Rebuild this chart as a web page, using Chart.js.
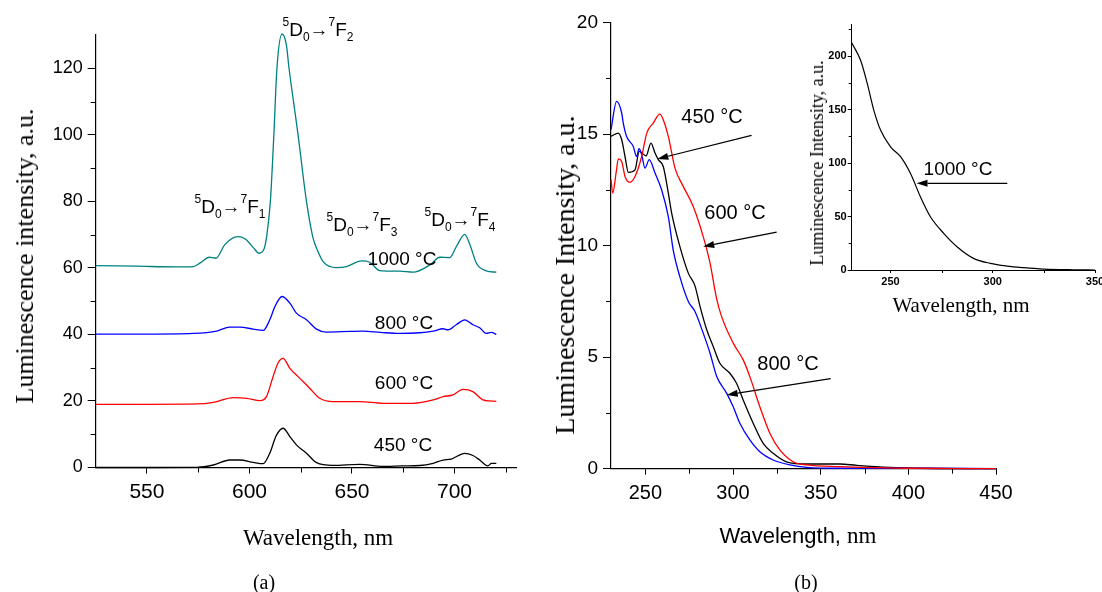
<!DOCTYPE html>
<html>
<head>
<meta charset="utf-8">
<script src="https://cdn.jsdelivr.net/npm/chart.js@4.4.0/dist/chart.umd.min.js"></script>
<style>
  html, body { margin: 0; padding: 0; background: #fff; }
  body { width: 1102px; height: 592px; position: relative; overflow: hidden; }
  canvas { position: absolute; }
  .lbl { position: absolute; transform: translate(-50%, -50%); white-space: nowrap; line-height: 1; color: #000; }
  .sans { font-family: 'Liberation Sans', Arial, sans-serif; }
  .serif { font-family: 'Liberation Serif', 'Times New Roman', serif; }
  .rot { transform: translate(-50%, -50%) rotate(-90deg); }
  .sp { font-size: 12px; position: relative; top: -10px; }
  .sb { font-size: 12px; position: relative; top: 5px; }
</style>
</head>
<body>
<canvas id="chartA" width="540" height="592" style="left:0;top:0"></canvas>
<canvas id="chartB" width="562" height="592" style="left:540px;top:0"></canvas>
<canvas id="chartIn" width="330" height="330" style="left:790px;top:0"></canvas>

<!-- panel (a) text -->
<div class="lbl serif rot" style="left:25px;top:256px;font-size:26px">Luminescence intensity, a.u.</div>
<div class="lbl serif" style="left:318px;top:537px;font-size:23px">Wavelength, nm</div>
<div class="lbl serif" style="left:264px;top:582px;font-size:20px">(a)</div>
<div class="lbl sans" style="left:318px;top:29px;font-size:19px"><span class="sp">5</span>D<span class="sb">0</span>&rarr;<span class="sp">7</span>F<span class="sb">2</span></div>
<div class="lbl sans" style="left:230px;top:206px;font-size:19px"><span class="sp">5</span>D<span class="sb">0</span>&rarr;<span class="sp">7</span>F<span class="sb">1</span></div>
<div class="lbl sans" style="left:362px;top:224px;font-size:19px"><span class="sp">5</span>D<span class="sb">0</span>&rarr;<span class="sp">7</span>F<span class="sb">3</span></div>
<div class="lbl sans" style="left:460px;top:219px;font-size:19px"><span class="sp">5</span>D<span class="sb">0</span>&rarr;<span class="sp">7</span>F<span class="sb">4</span></div>
<div class="lbl sans" style="left:402px;top:258px;font-size:19px">1000 &deg;C</div>
<div class="lbl sans" style="left:404px;top:322px;font-size:19px">800 &deg;C</div>
<div class="lbl sans" style="left:404px;top:382px;font-size:19px">600 &deg;C</div>
<div class="lbl sans" style="left:403px;top:444px;font-size:19px">450 &deg;C</div>

<!-- panel (b) text -->
<div class="lbl serif rot" style="left:565px;top:275px;font-size:28px">Luminescence Intensity, a.u.</div>
<div class="lbl" style="left:798px;top:535px"><span class="sans" style="font-size:22px">Wavelength, </span><span class="serif" style="font-size:23px">nm</span></div>
<div class="lbl serif" style="left:806px;top:582px;font-size:20px">(b)</div>
<div class="lbl sans" style="left:712px;top:116px;font-size:20px">450 &deg;C</div>
<div class="lbl sans" style="left:735px;top:212px;font-size:20px">600 &deg;C</div>
<div class="lbl sans" style="left:788px;top:363px;font-size:20px">800 &deg;C</div>

<!-- inset text -->
<div class="lbl serif rot" style="left:817px;top:163px;font-size:18px">Luminescence Intensity, a.u.</div>
<div class="lbl serif" style="left:961px;top:305px;font-size:21px">Wavelength, nm</div>
<div class="lbl sans" style="left:958px;top:168px;font-size:19px">1000 &deg;C</div>

<script>
// ---- panel (a): emission spectra ----
const wl1000 = [525, 545, 565, 572.5, 576, 580.4, 583.6, 588, 594.2, 598, 602, 604.6, 607, 608.5, 610.2, 611.9, 613.4, 615.9, 618, 619.3, 623.7, 627.8, 631, 633, 635.9, 642.4, 647.3, 654.6, 658.7, 663.5, 673.3, 679.8, 688, 692.8, 697.7, 701, 705, 707.5, 710.7, 715.5, 720.4];
const int1000 = [60.7, 60.5, 60.3, 60.4, 61.5, 63.2, 62.9, 67.0, 69.4, 68.7, 66.0, 64.4, 65.5, 70.0, 80.0, 100.0, 120.0, 130.3, 127.0, 120.0, 100.0, 80.0, 69.0, 65.5, 61.9, 60.1, 60.4, 62.1, 61.7, 59.2, 59.0, 58.7, 60.9, 63.2, 63.1, 66.5, 70.1, 67.0, 61.4, 59.1, 58.7];

const wl800 = [525, 550, 572.6, 584, 590.4, 595.3, 601.8, 606.7, 609.9, 612.5, 615.9, 619.7, 622.9, 627.8, 632.7, 637.5, 648.9, 655.4, 664, 673.3, 683, 689.6, 694.4, 696.8, 701, 705, 709, 712.3, 715.5, 718, 720.4];
const int800 = [40.1, 40.1, 40.3, 41.0, 42.2, 42.2, 41.6, 41.2, 44.4, 48.5, 51.4, 49.4, 46.4, 44.4, 41.6, 40.7, 40.9, 41.0, 40.6, 40.3, 40.5, 41.0, 41.7, 41.4, 43.0, 44.4, 42.9, 42.0, 40.3, 40.6, 40.0];

const wl600 = [525, 550, 574.3, 582.4, 592.1, 598.6, 605.1, 608.3, 611.5, 614, 616.4, 619.7, 624.6, 629.4, 634.3, 640.7, 653.8, 665.1, 679.8, 689.6, 694.4, 699.3, 704.1, 709, 713.9, 717.1, 720.4];
const int600 = [19.0, 19.0, 19.1, 19.6, 21.0, 20.8, 20.1, 21.3, 27.3, 31.5, 32.8, 29.8, 26.8, 23.8, 20.8, 19.8, 19.8, 19.3, 19.3, 20.3, 21.3, 21.8, 23.5, 22.8, 20.3, 20.0, 19.9];

const wl450 = [525, 550, 574.3, 582.4, 590.4, 595.3, 601.8, 606.7, 609.9, 613, 616.4, 619.7, 622.9, 627.8, 632.7, 640.7, 653.8, 665.1, 674.9, 683, 689.6, 694.4, 698.5, 705, 709, 712.3, 716.3, 718, 720.4];
const int450 = [0, 0, 0.06, 0.75, 2.25, 2.25, 1.55, 1.15, 4.27, 9.5, 11.8, 9.3, 6.8, 4.3, 1.45, 0.65, 0.95, 0.3, 0.5, 0.6, 1.25, 2.25, 2.55, 4.27, 3.6, 2.25, 0.5, 1.25, 1.25];

const ticksAX = [550, 600, 650, 700];
const minorAX = [575, 625, 675, 725];
const ticksAY = [0, 20, 40, 60, 80, 100, 120];
const minorAY = [10, 30, 50, 70, 90, 110];

// ---- panel (b): excitation spectra ----
const wlB450 = [230.4, 234.6, 236.5, 238.4, 240.3, 244.1, 246.5, 250.4, 253.2, 255.5, 257.4, 260.2, 263.1, 265, 269.7, 274.5, 278.3, 281.1, 285, 288.7, 292.5, 298.2, 302, 305.8, 311.5, 317.2, 322.9, 330.5, 342, 361, 370.5, 389.5, 408.5, 450];
const intB450 = [14.9, 15.05, 14.75, 14.0, 13.29, 13.4, 14.23, 14.03, 14.6, 14.16, 13.86, 13.55, 12.36, 11.46, 9.96, 8.77, 8.2, 7.3, 6.23, 5.48, 4.73, 4.28, 3.83, 3.08, 2.04, 1.14, 0.69, 0.31, 0.21, 0.21, 0.15, 0.06, 0.02, 0];

const wlB600 = [230.4, 231.4, 233.3, 234.6, 236.5, 238.4, 241.2, 244.1, 247.9, 250.8, 254.5, 258.3, 260.2, 263.1, 266.9, 271.6, 277.3, 283, 286.9, 290.7, 293.5, 300.1, 305.8, 309.6, 315.3, 321, 326.7, 334.3, 342, 361, 399, 450];
const intB600 = [12.96, 12.36, 13.26, 13.89, 13.78, 13.1, 12.84, 13.1, 14.0, 15.05, 15.5, 15.9, 15.65, 14.9, 13.48, 12.66, 11.76, 10.41, 9.22, 7.6, 6.82, 5.63, 4.88, 4.13, 2.78, 1.59, 0.84, 0.31, 0.17, 0.09, 0.02, 0];

const wlB800 = [230.4, 233.6, 236.5, 237.4, 239.3, 243.1, 245, 246.4, 247.9, 249.8, 252.2, 255.5, 259.3, 263.1, 265.9, 269.7, 274.5, 278.3, 283, 286.9, 290.7, 296.4, 300.1, 303.9, 309.6, 315.3, 322.9, 332.5, 342, 361, 400, 450];
const intB800 = [15.2, 16.47, 15.95, 15.5, 14.9, 14.45, 14.0, 14.35, 14.08, 13.48, 13.86, 13.26, 12.5, 11.3, 9.8, 8.6, 7.5, 7.05, 6.08, 5.18, 4.13, 3.38, 2.78, 2.04, 1.29, 0.76, 0.39, 0.17, 0.06, 0.02, 0.02, 0];

const ticksBX = [250, 300, 350, 400, 450];
const minorBX = [275, 325, 375, 425];
const ticksBY = [0, 5, 10, 15, 20];
const minorBY = [2.5, 7.5, 12.5, 17.5];

// arrows in data units: [from, to]
const arrowsB = [
    [[310.6, 14.95], [256.8, 13.89]],
    [[324.9, 10.61], [283.0, 9.96]],
    [[355.7, 4.04], [296.4, 3.31]]
];

// ---- inset: 1000 C excitation ----
const wlIn = [231, 235.3, 238.6, 241.8, 245.1, 250, 254.9, 259.7, 264.6, 269.5, 276, 282.5, 290.6, 298.8, 306.9, 315, 324.8, 339.4, 350];
const intIn = [212.4, 196.3, 174.5, 149.5, 130.8, 115.2, 105.9, 90.4, 68.5, 49.8, 34.3, 21.8, 10.9, 6.2, 3.7, 2.2, 0.9, 0.2, 0];
const ticksInX = [250, 300, 350];
const minorInX = [275, 325];
const ticksInY = [0, 50, 100, 150, 200];
const minorInY = [25, 75, 125, 175, 225];
const arrowsIn = [[[307.1, 81], [262.7, 81]]];

function pts(xs, ys) {
    return xs.map((x, i) => ({x: x, y: ys[i]}));
}

// short minor ticks, placed through the chart's scales
const minorTicks = {
    id: 'minorTicks',
    afterDraw(chart, args, opts) {
        const ctx = chart.ctx;
        const xs = chart.scales.x, ys = chart.scales.y;
        ctx.save();
        ctx.strokeStyle = '#000';
        ctx.lineWidth = 1;
        (opts.x || []).forEach(v => {
            const px = Math.round(xs.getPixelForValue(v)) + 0.5;
            ctx.beginPath();
            ctx.moveTo(px, xs.top);
            ctx.lineTo(px, xs.top + opts.len);
            ctx.stroke();
        });
        (opts.y || []).forEach(v => {
            const py = Math.round(ys.getPixelForValue(v)) + 0.5;
            ctx.beginPath();
            ctx.moveTo(ys.right, py);
            ctx.lineTo(ys.right - opts.len, py);
            ctx.stroke();
        });
        ctx.restore();
    }
};

const arrowPlugin = {
    id: 'arrows',
    afterDatasetsDraw(chart, args, opts) {
        const ctx = chart.ctx;
        const xs = chart.scales.x, ys = chart.scales.y;
        ctx.save();
        ctx.strokeStyle = '#000';
        ctx.fillStyle = '#000';
        ctx.lineWidth = 1.2;
        (opts.list || []).forEach(a => {
            const x0 = xs.getPixelForValue(a[0][0]), y0 = ys.getPixelForValue(a[0][1]);
            const x1 = xs.getPixelForValue(a[1][0]), y1 = ys.getPixelForValue(a[1][1]);
            const ang = Math.atan2(y1 - y0, x1 - x0);
            const hl = 11, hw = 3.5;
            const bx = x1 - hl * Math.cos(ang), by = y1 - hl * Math.sin(ang);
            ctx.beginPath();
            ctx.moveTo(x0, y0);
            ctx.lineTo(bx, by);
            ctx.stroke();
            ctx.beginPath();
            ctx.moveTo(x1, y1);
            ctx.lineTo(bx + hw * Math.sin(ang), by - hw * Math.cos(ang));
            ctx.lineTo(bx - hw * Math.sin(ang), by + hw * Math.cos(ang));
            ctx.closePath();
            ctx.fill();
        });
        ctx.restore();
    }
};

Chart.defaults.font.family = "'Liberation Sans', Arial, sans-serif";
Chart.defaults.color = '#000';

function line(data, color, width) {
    return {
        data: data,
        borderColor: color,
        borderWidth: width || 1.3,
        pointRadius: 0,
        showLine: true,
        fill: false,
        clip: false,
        cubicInterpolationMode: 'monotone'
    };
}

function makeChart(id, cfg) {
    return new Chart(document.getElementById(id), {
        type: 'scatter',
        data: {datasets: cfg.datasets},
        plugins: [minorTicks, arrowPlugin],
        options: {
            responsive: false,
            animation: false,
            devicePixelRatio: 1,
            layout: {padding: cfg.padding},
            plugins: {
                legend: {display: false},
                tooltip: {enabled: false},
                minorTicks: {x: cfg.minorX, y: cfg.minorY, len: cfg.minorLen},
                arrows: {list: cfg.arrows || []}
            },
            scales: {
                x: {
                    type: 'linear',
                    min: cfg.xRange[0], max: cfg.xRange[1],
                    afterBuildTicks: s => { s.ticks = cfg.ticksX.map(v => ({value: v})); },
                    afterFit: s => { s.height = cfg.xH; },
                    grid: {drawOnChartArea: false, drawTicks: true, tickLength: cfg.tickX, color: '#000', lineWidth: 1},
                    border: {display: true, color: '#000', width: cfg.axisW},
                    ticks: {autoSkip: false, maxRotation: 0, padding: cfg.padX, font: cfg.fontX, color: '#000'}
                },
                y: {
                    type: 'linear',
                    min: cfg.yRange[0], max: cfg.yRange[1],
                    afterBuildTicks: s => { s.ticks = cfg.ticksY.map(v => ({value: v})); },
                    afterFit: s => { s.width = cfg.yW; },
                    grid: {drawOnChartArea: false, drawTicks: true, tickLength: cfg.tickY, color: '#000', lineWidth: 1},
                    border: {display: true, color: '#000', width: cfg.axisW},
                    ticks: {autoSkip: false, padding: cfg.padY, font: cfg.fontY, color: '#000'}
                }
            }
        }
    });
}

makeChart('chartA', {
    datasets: [
        line(pts(wl450, int450), '#000000'),
        line(pts(wl600, int600), '#ff0000'),
        line(pts(wl800, int800), '#0000ff'),
        line(pts(wl1000, int1000), '#008080')
    ],
    padding: {left: 0, right: 24, top: 35, bottom: 84.5},
    xRange: [525, 730], yRange: [0, 130],
    ticksX: ticksAX, ticksY: ticksAY, minorX: minorAX, minorY: minorAY, minorLen: 5,
    xH: 40, yW: 95.7, tickX: 6, tickY: 8, padX: 6, padY: 5, axisW: 1.2,
    fontX: {size: 21}, fontY: {size: 18}
});

makeChart('chartB', {
    datasets: [
        line(pts(wlB600, intB600), '#ff0000'),
        line(pts(wlB800, intB800), '#0000ff'),
        line(pts(wlB450, intB450), '#000000')
    ],
    padding: {left: 0, right: 106, top: 22.7, bottom: 83.3},
    xRange: [230.4, 450], yRange: [0, 20],
    ticksX: ticksBX, ticksY: ticksBY, minorX: minorBX, minorY: minorBY, minorLen: 5,
    xH: 40, yW: 71, tickX: 6, tickY: 8, padX: 7, padY: 5, axisW: 1.2,
    fontX: {size: 20}, fontY: {size: 19},
    arrows: arrowsB
});

makeChart('chartIn', {
    datasets: [
        line(pts(wlIn, intIn), '#000000', 1.2)
    ],
    padding: {left: 0, right: 25, top: 24, bottom: 35},
    xRange: [231, 350], yRange: [0, 230],
    ticksX: ticksInX, ticksY: ticksInY, minorX: minorInX, minorY: minorInY, minorLen: 3,
    xH: 25, yW: 61.7, tickX: 3, tickY: 4, padX: 2, padY: 1, axisW: 1,
    fontX: {size: 11, weight: 'bold'}, fontY: {size: 11, weight: 'bold'},
    arrows: arrowsIn
});
</script>
</body>
</html>
